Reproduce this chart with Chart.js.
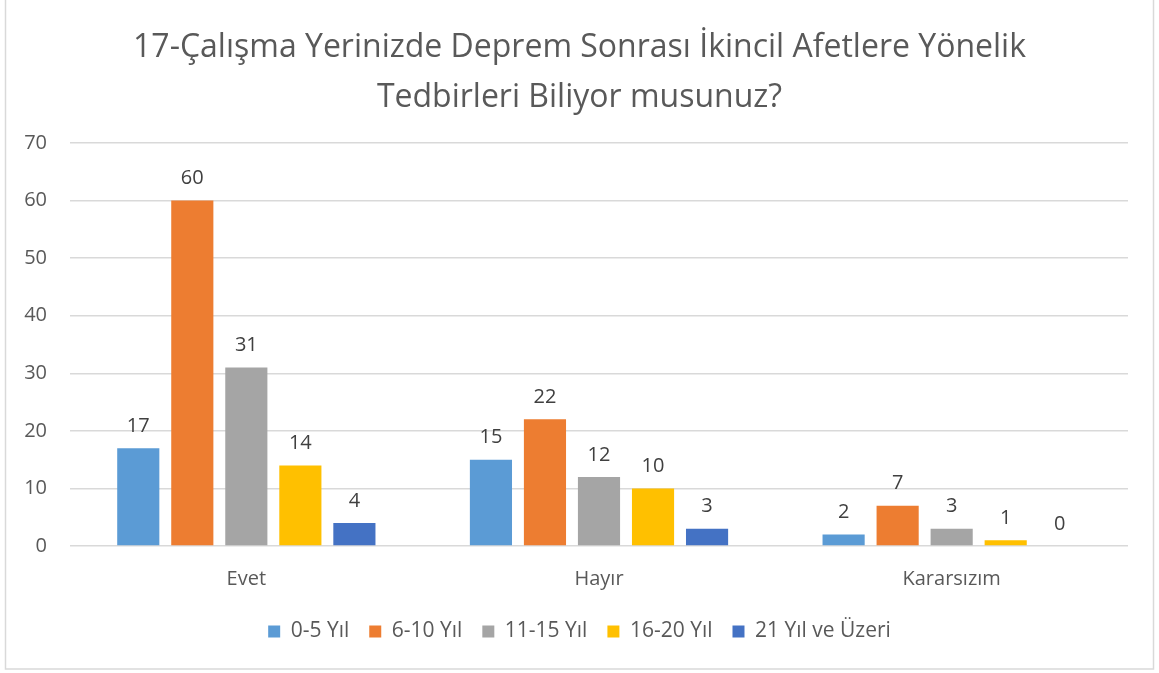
<!DOCTYPE html>
<html>
<head>
<meta charset="utf-8">
<script src="https://cdn.jsdelivr.net/npm/chart.js@4/dist/chart.umd.min.js"></script>
<style>
  html, body { margin: 0; padding: 0; background: #fff; }
  #wrap { width: 1159px; height: 673px; position: relative; }
</style>
</head>
<body>
<div id="wrap"><canvas id="c" width="1159" height="673"></canvas></div>
<script>
// Survey answers grouped by years of work experience
const categories = ['Evet', 'Hayır', 'Kararsızım'];
const seriesNames = ['0-5 Yıl', '6-10 Yıl', '11-15 Yıl', '16-20 Yıl', '21 Yıl ve Üzeri'];
const values0to5 = [17, 15, 2];
const values6to10 = [60, 22, 7];
const values11to15 = [31, 12, 3];
const values16to20 = [14, 10, 1];
const values21plus = [4, 3, 0];
const seriesColors = ['#5B9BD5', '#ED7D31', '#A5A5A5', '#FFC000', '#4472C4'];
const titleLines = ['17-Çalışma Yerinizde Deprem Sonrası İkincil Afetlere Yönelik', 'Tedbirleri Biliyor musunuz?'];

const seriesValues = [values0to5, values6to10, values11to15, values16to20, values21plus];
const FONT = "'Open Sans', sans-serif";

// White background and thin grey frame around the whole chart
const frame = {
  id: 'frame',
  beforeDraw(chart) {
    const ctx = chart.ctx;
    ctx.save();
    ctx.fillStyle = '#ffffff';
    ctx.fillRect(0, 0, chart.width, chart.height);
    ctx.strokeStyle = '#d9d9d9';
    ctx.lineWidth = 1.5;
    ctx.strokeRect(5.5, -2, chart.width - 11, chart.height - 2);
    ctx.restore();
  }
};

// Value labels above each bar
const valueLabels = {
  id: 'valueLabels',
  afterDatasetsDraw(chart) {
    const ctx = chart.ctx;
    ctx.save();
    ctx.font = '20px ' + FONT;
    ctx.fillStyle = '#404040';
    ctx.textAlign = 'center';
    ctx.textBaseline = 'bottom';
    chart.data.datasets.forEach((ds, i) => {
      chart.getDatasetMeta(i).data.forEach((bar, j) => {
        ctx.fillText(String(ds.data[j]), bar.x, bar.y - 12);
      });
    });
    ctx.restore();
  }
};

new Chart(document.getElementById('c'), {
  type: 'bar',
  data: {
    labels: categories,
    datasets: seriesNames.map((name, i) => ({
      label: name,
      data: seriesValues[i],
      backgroundColor: seriesColors[i],
      borderWidth: 0,
      categoryPercentage: 0.766,
      barPercentage: 0.78
    }))
  },
  options: {
    responsive: false,
    animation: false,
    layout: { padding: { left: 10, right: 10, top: 0, bottom: 21 } },
    plugins: {
      title: {
        display: true,
        text: titleLines,
        color: '#595959',
        font: { family: FONT, size: 32, weight: 'normal', lineHeight: 1.5625 },
        padding: { top: 23, bottom: 20 }
      },
      legend: {
        position: 'bottom',
        labels: {
          color: '#595959',
          font: { family: FONT, size: 21 },
          boxWidth: 12,
          boxHeight: 12,
          padding: 20
        }
      },
      tooltip: { enabled: false }
    },
    scales: {
      x: {
        afterFit(s) { s.height = 55; },
        grid: { display: false, drawTicks: false },
        border: { display: false },
        ticks: { color: '#595959', font: { family: FONT, size: 20 }, padding: 21 }
      },
      y: {
        min: 0,
        max: 70,
        afterFit(s) { s.width = 60; },
        grid: { color: '#d9d9d9', lineWidth: 1.5, drawTicks: false },
        border: { display: false },
        ticks: { stepSize: 10, color: '#595959', font: { family: FONT, size: 20 }, padding: 23 }
      },
      // empty right-hand margin so the plot sits where it should
      yRight: {
        position: 'right',
        afterFit(s) { s.width = 21; },
        grid: { display: false, drawTicks: false },
        border: { display: false },
        ticks: { display: false }
      }
    }
  },
  plugins: [frame, valueLabels]
});
</script>
</body>
</html>
